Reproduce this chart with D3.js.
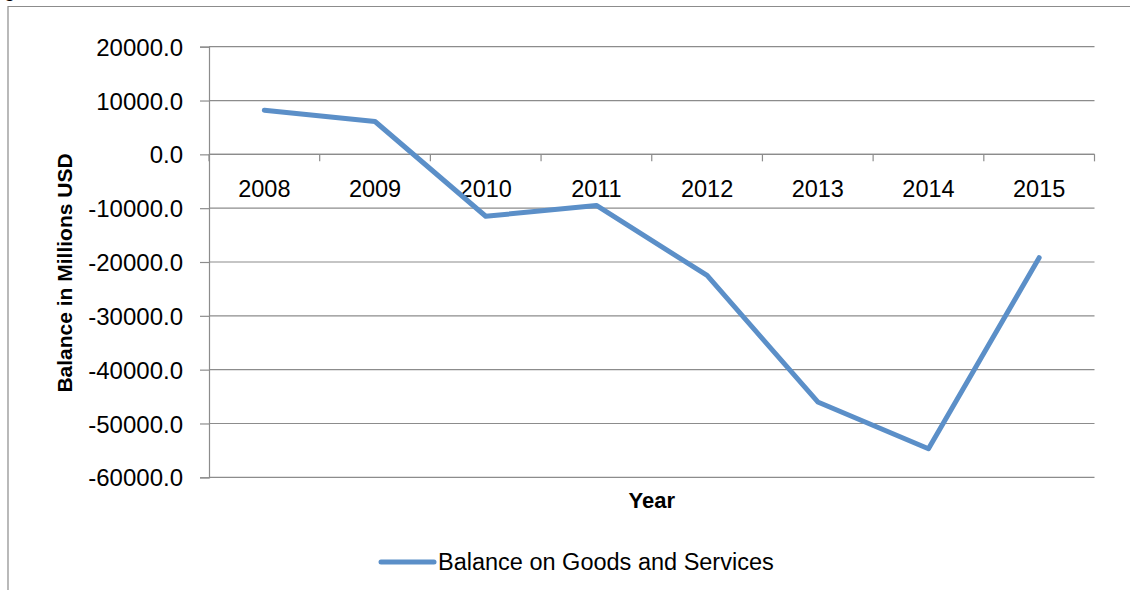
<!DOCTYPE html>
<html>
<head>
<meta charset="utf-8">
<script src="https://cdn.jsdelivr.net/npm/d3@7"></script>
<style>
  body { margin: 0; background: #fff; }
  svg { display: block; font-family: "Liberation Sans", Arial, sans-serif; }
</style>
</head>
<body>
<div id="chart"></div>
<script>
// data
var years = ['2008', '2009', '2010', '2011', '2012', '2013', '2014', '2015'];
var balance = [8200, 6100, -11500, -9500, -22500, -46000, -54700, -19200];
var yTicks = [20000, 10000, 0, -10000, -20000, -30000, -40000, -50000, -60000];
var seriesName = 'Balance on Goods and Services';

var width = 1130, height = 590;
var plot = { left: 209, right: 1094.5, top: 46.7, bottom: 477.3 };
var lineColor = '#5b8fc8';
var gridColor = '#8c8c8c';

var svg = d3.select('#chart').append('svg')
    .attr('width', width)
    .attr('height', height);

// outer frame (only top and left edges are inside the picture)
svg.append('path')
    .attr('d', 'M8,' + height + 'V6.5H' + width)
    .attr('fill', 'none')
    .attr('stroke', gridColor)
    .attr('stroke-width', 1.2);

// clipped letter of a caption above the frame
svg.append('text')
    .attr('x', 4)
    .attr('y', -3)
    .style('font-size', '20px')
    .text('g');

var x = d3.scaleBand()
    .domain(years)
    .range([plot.left, plot.right])
    .padding(0);

var y = d3.scaleLinear()
    .domain([-60000, 20000])
    .range([plot.bottom, plot.top]);

// plain hyphen for negatives, one decimal
var fmt = function (d) { return d3.format('.1f')(d).replace('\u2212', '-'); };

// horizontal gridlines
svg.append('g')
    .selectAll('line')
    .data(yTicks)
    .enter().append('line')
    .attr('x1', plot.left)
    .attr('x2', plot.right)
    .attr('y1', function (d) { return y(d); })
    .attr('y2', function (d) { return y(d); })
    .attr('stroke', gridColor)
    .attr('stroke-width', 1.2);

// y axis
var yAxis = svg.append('g')
    .attr('transform', 'translate(' + plot.left + ',0)')
    .call(d3.axisLeft(y)
        .tickValues(yTicks)
        .tickFormat(fmt)
        .tickSize(9)
        .tickPadding(17));
yAxis.select('.domain').attr('stroke', gridColor).attr('stroke-width', 1.2);
yAxis.selectAll('.tick line').attr('stroke', gridColor).attr('stroke-width', 1.2);
yAxis.selectAll('.tick text')
    .attr('fill', '#000')
    .style('font-size', '24px')
    .style('font-family', '"Liberation Sans", Arial, sans-serif')
    .attr('dy', '0.36em');

// x axis at zero
var xAxis = svg.append('g')
    .attr('transform', 'translate(0,' + y(0) + ')')
    .call(d3.axisBottom(x).tickSize(0).tickPadding(26));
xAxis.select('.domain').remove();
xAxis.selectAll('.tick text')
    .attr('fill', '#000')
    .style('font-size', '23.5px')
    .style('font-family', '"Liberation Sans", Arial, sans-serif');
svg.append('line')
    .attr('x1', plot.left).attr('x2', plot.right)
    .attr('y1', y(0)).attr('y2', y(0))
    .attr('stroke', gridColor).attr('stroke-width', 1.2);
svg.append('g')
    .selectAll('line')
    .data(years.concat(['end']))
    .enter().append('line')
    .attr('x1', function (d, i) { return plot.left + i * x.bandwidth(); })
    .attr('x2', function (d, i) { return plot.left + i * x.bandwidth(); })
    .attr('y1', y(0))
    .attr('y2', y(0) + 7)
    .attr('stroke', gridColor)
    .attr('stroke-width', 1.2);

// series line
var line = d3.line()
    .x(function (d, i) { return x(years[i]) + x.bandwidth() / 2; })
    .y(function (d) { return y(d); });

svg.append('path')
    .datum(balance)
    .attr('d', line)
    .attr('fill', 'none')
    .attr('stroke', lineColor)
    .attr('stroke-width', 5)
    .attr('stroke-linejoin', 'round')
    .attr('stroke-linecap', 'round');

// axis titles
svg.append('text')
    .attr('x', (plot.left + plot.right) / 2)
    .attr('y', 508)
    .attr('text-anchor', 'middle')
    .style('font-size', '22px')
    .style('font-weight', 'bold')
    .text('Year');

svg.append('text')
    .attr('transform', 'translate(72,273) rotate(-90)')
    .attr('text-anchor', 'middle')
    .style('font-size', '21px')
    .style('font-weight', 'bold')
    .text('Balance in Millions USD');

// legend
var legend = svg.append('g').attr('transform', 'translate(379,562)');
legend.append('line')
    .attr('x1', 2).attr('x2', 55)
    .attr('y1', 0).attr('y2', 0)
    .attr('stroke', lineColor)
    .attr('stroke-width', 5)
    .attr('stroke-linecap', 'round');
legend.append('text')
    .attr('x', 59)
    .attr('y', 8)
    .style('font-size', '23.5px')
    .text(seriesName);
</script>
</body>
</html>
